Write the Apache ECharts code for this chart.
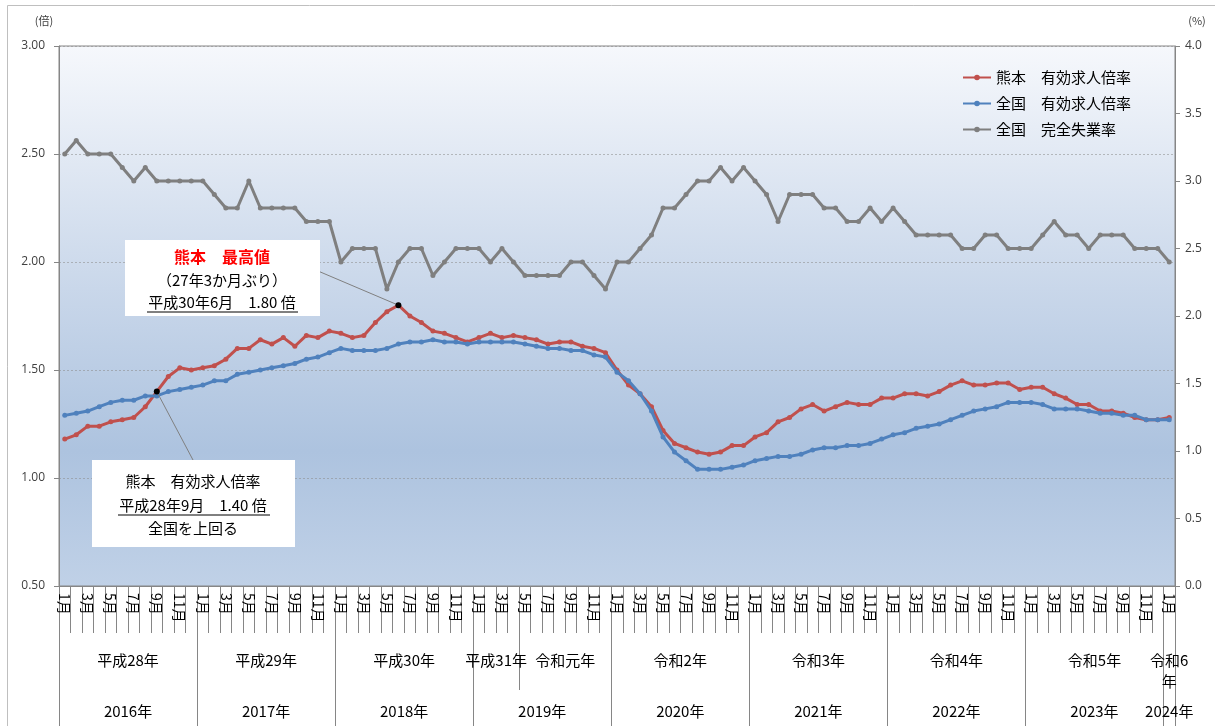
<!DOCTYPE html>
<html>
<head>
<meta charset="utf-8">
<script src="https://cdn.jsdelivr.net/npm/echarts@6/dist/echarts.min.js"></script>
<style>
  html, body { margin: 0; padding: 0; background: #fff; }
  #chart { width: 1215px; height: 726px; }
</style>
</head>
<body>
<div id="chart"></div>
<script>
const FONT = '"Noto Sans CJK JP", "Noto Sans", sans-serif';

// months Jan 2016 .. Jan 2024
const years = [2016, 2017, 2018, 2019, 2020, 2021, 2022, 2023, 2024];
const months = [];
years.forEach(y => {
  const n = y === 2024 ? 1 : 12;
  for (let m = 1; m <= n; m++) months.push(m + '月');
});

// 熊本 有効求人倍率
const kumamoto = [
  1.18, 1.20, 1.24, 1.24, 1.26, 1.27, 1.28, 1.33, 1.40, 1.47, 1.51, 1.50,
  1.51, 1.52, 1.55, 1.60, 1.60, 1.64, 1.62, 1.65, 1.61, 1.66, 1.65, 1.68,
  1.67, 1.65, 1.66, 1.72, 1.77, 1.80, 1.75, 1.72, 1.68, 1.67, 1.65, 1.63,
  1.65, 1.67, 1.65, 1.66, 1.65, 1.64, 1.62, 1.63, 1.63, 1.61, 1.60, 1.58,
  1.50, 1.43, 1.39, 1.33, 1.22, 1.16, 1.14, 1.12, 1.11, 1.12, 1.15, 1.15,
  1.19, 1.21, 1.26, 1.28, 1.32, 1.34, 1.31, 1.33, 1.35, 1.34, 1.34, 1.37,
  1.37, 1.39, 1.39, 1.38, 1.40, 1.43, 1.45, 1.43, 1.43, 1.44, 1.44, 1.41,
  1.42, 1.42, 1.39, 1.37, 1.34, 1.34, 1.31, 1.31, 1.30, 1.28, 1.27, 1.27,
  1.28
];

// 全国 有効求人倍率
const national = [
  1.29, 1.30, 1.31, 1.33, 1.35, 1.36, 1.36, 1.38, 1.38, 1.40, 1.41, 1.42,
  1.43, 1.45, 1.45, 1.48, 1.49, 1.50, 1.51, 1.52, 1.53, 1.55, 1.56, 1.58,
  1.60, 1.59, 1.59, 1.59, 1.60, 1.62, 1.63, 1.63, 1.64, 1.63, 1.63, 1.62,
  1.63, 1.63, 1.63, 1.63, 1.62, 1.61, 1.60, 1.60, 1.59, 1.59, 1.57, 1.56,
  1.49, 1.45, 1.39, 1.31, 1.19, 1.12, 1.08, 1.04, 1.04, 1.04, 1.05, 1.06,
  1.08, 1.09, 1.10, 1.10, 1.11, 1.13, 1.14, 1.14, 1.15, 1.15, 1.16, 1.18,
  1.20, 1.21, 1.23, 1.24, 1.25, 1.27, 1.29, 1.31, 1.32, 1.33, 1.35, 1.35,
  1.35, 1.34, 1.32, 1.32, 1.32, 1.31, 1.30, 1.30, 1.29, 1.29, 1.27, 1.27,
  1.27
];

// 全国 完全失業率 (%)
const unemployment = [
  3.2, 3.3, 3.2, 3.2, 3.2, 3.1, 3.0, 3.1, 3.0, 3.0, 3.0, 3.0,
  3.0, 2.9, 2.8, 2.8, 3.0, 2.8, 2.8, 2.8, 2.8, 2.7, 2.7, 2.7,
  2.4, 2.5, 2.5, 2.5, 2.2, 2.4, 2.5, 2.5, 2.3, 2.4, 2.5, 2.5,
  2.5, 2.4, 2.5, 2.4, 2.3, 2.3, 2.3, 2.3, 2.4, 2.4, 2.3, 2.2,
  2.4, 2.4, 2.5, 2.6, 2.8, 2.8, 2.9, 3.0, 3.0, 3.1, 3.0, 3.1,
  3.0, 2.9, 2.7, 2.9, 2.9, 2.9, 2.8, 2.8, 2.7, 2.7, 2.8, 2.7,
  2.8, 2.7, 2.6, 2.6, 2.6, 2.6, 2.5, 2.5, 2.6, 2.6, 2.5, 2.5,
  2.5, 2.6, 2.7, 2.6, 2.6, 2.5, 2.6, 2.6, 2.6, 2.5, 2.5, 2.5,
  2.4
];

// era / calendar year group labels (index where label sits, breaks where lines go)
const eraNames = ['平成28年', '平成29年', '平成30年', '平成31年', '令和元年', '令和2年', '令和3年', '令和4年', '令和5年', '令和6\n年'];
const eraAt = [6, 18, 30, 38, 44, 54, 66, 78, 90, 96];
const eraBreaks = [0, 12, 24, 36, 40, 48, 60, 72, 84, 96];
const yearNames = ['2016年', '2017年', '2018年', '2019年', '2020年', '2021年', '2022年', '2023年', '2024年'];
const yearAt = [6, 18, 30, 42, 54, 66, 78, 90, 96];
const yearBreaks = [0, 12, 24, 36, 48, 60, 72, 84, 96];

const seriesNames = ['熊本\u3000有効求人倍率', '全国\u3000有効求人倍率', '全国\u3000完全失業率'];
const colors = ['#c0504d', '#4f81bd', '#7f7f7f'];

const chart = echarts.init(document.getElementById('chart'));

const axisGray = '#868686';

function groupLabel(names, at) {
  return function (value, index) {
    const k = at.indexOf(index);
    if (k < 0) return '';
    const name = names[k];
    if (index === 96) return name.split('\n').map(s => '{b|' + s + '}').join('\n');
    return '{a|' + name + '}';
  };
}

const option = {
  animation: false,
  color: colors,
  textStyle: { fontFamily: FONT },
  grid: {
    left: 59, right: 40, top: 46, bottom: 140,
    show: true,
    borderColor: axisGray,
    borderWidth: 1,
    backgroundColor: new echarts.graphic.LinearGradient(0, 0, 0, 1, [
      { offset: 0, color: '#f6f8fc' },
      { offset: 0.45, color: '#c9d7ea' },
      { offset: 0.75, color: '#adc3df' },
      { offset: 1, color: '#c0d1e7' }
    ])
  },
  legend: {
    orient: 'vertical',
    left: 962,
    top: 70,
    padding: 0,
    itemWidth: 28,
    itemHeight: 7,
    itemGap: 11,
    textStyle: { fontFamily: FONT, fontSize: 15, color: '#000' },
    data: seriesNames
  },
  xAxis: [
    {
      type: 'category',
      data: months,
      boundaryGap: true,
      axisLine: { lineStyle: { color: axisGray } },
      axisTick: { show: true, interval: 0, length: 47, lineStyle: { color: axisGray } },
      axisLabel: {
        interval: (i) => i % 2 === 0,
        rotate: -90,
        margin: 7,
        fontSize: 14,
        color: '#000',
        fontFamily: FONT
      }
    },
    {
      type: 'category',
      data: months,
      position: 'bottom',
      offset: 47,
      boundaryGap: true,
      axisLine: { show: false },
      axisTick: { show: true, interval: (i) => eraBreaks.includes(i), length: 57, lineStyle: { color: axisGray } },
      axisLabel: {
        interval: (i) => eraAt.includes(i),
        formatter: groupLabel(eraNames, eraAt),
        margin: 17,
        fontSize: 15,
        lineHeight: 21,
        color: '#000',
        fontFamily: FONT,
        rich: {
          a: { fontSize: 15, fontFamily: FONT, color: '#000', padding: [0, 11.5, 0, 0] },
          b: { fontSize: 15, fontFamily: FONT, color: '#000', lineHeight: 21 }
        }
      }
    },
    {
      type: 'category',
      data: months,
      position: 'bottom',
      offset: 104,
      boundaryGap: true,
      axisLine: { show: false },
      axisTick: { show: true, interval: (i) => yearBreaks.includes(i), length: 40, lineStyle: { color: axisGray } },
      axisLabel: {
        interval: (i) => yearAt.includes(i),
        formatter: function (value, index) {
          const k = yearAt.indexOf(index);
          if (k < 0) return '';
          return index === 96 ? '{b|' + yearNames[k] + '}' : '{a|' + yearNames[k] + '}';
        },
        margin: 14,
        fontSize: 15,
        color: '#000',
        fontFamily: FONT,
        rich: {
          a: { fontSize: 15, fontFamily: FONT, color: '#000', padding: [0, 11.5, 0, 0] },
          b: { fontSize: 15, fontFamily: FONT, color: '#000' }
        }
      }
    }
  ],
  yAxis: [
    {
      type: 'value',
      min: 0.5, max: 3.0, interval: 0.5,
      name: '(倍)',
      nameLocation: 'end',
      nameGap: 20,
      nameTextStyle: { fontSize: 11, color: '#404040', fontFamily: FONT, padding: [0, 30, 0, 0] },
      axisLine: { show: true, lineStyle: { color: axisGray } },
      axisTick: { show: true, length: 5, lineStyle: { color: axisGray } },
      axisLabel: { formatter: v => v.toFixed(2), fontSize: 12, color: '#404040', margin: 14, fontFamily: '"Open Sans", sans-serif' },
      splitLine: { show: true, lineStyle: { color: 'rgba(140,140,140,0.55)', type: [2, 2], width: 1 } }
    },
    {
      type: 'value',
      min: 0, max: 4.0, interval: 0.5,
      name: '(%)',
      nameLocation: 'end',
      nameGap: 20,
      nameTextStyle: { fontSize: 11, color: '#404040', fontFamily: FONT, padding: [0, 0, 0, 44] },
      axisLine: { show: true, lineStyle: { color: axisGray } },
      axisTick: { show: true, length: 5, lineStyle: { color: axisGray } },
      axisLabel: { formatter: v => v.toFixed(1), fontSize: 12, color: '#404040', margin: 10, fontFamily: '"Open Sans", sans-serif' },
      splitLine: { show: false }
    }
  ],
  series: [
    {
      name: seriesNames[0],
      type: 'line',
      data: kumamoto,
      symbol: 'circle',
      symbolSize: 5,
      lineStyle: { width: 3 },
      z: 3,
      markLine: {
        silent: true,
        symbol: ['none', 'none'],
        label: { show: false },
        lineStyle: { color: '#808080', width: 1, type: 'solid' },
        data: [
          [{ x: 318, y: 271 }, { coord: [29, 1.80] }],
          [{ x: 193, y: 460 }, { coord: [8, 1.40] }]
        ]
      },
      markPoint: {
        silent: true,
        symbol: 'circle',
        symbolSize: 6,
        label: { show: false },
        itemStyle: { color: '#000' },
        data: [{ coord: [29, 1.80] }, { coord: [8, 1.40] }]
      }
    },
    {
      name: seriesNames[1],
      type: 'line',
      data: national,
      symbol: 'circle',
      symbolSize: 5,
      lineStyle: { width: 3 },
      z: 4
    },
    {
      name: seriesNames[2],
      type: 'line',
      yAxisIndex: 1,
      data: unemployment,
      symbol: 'circle',
      symbolSize: 5,
      lineStyle: { width: 3 },
      z: 2
    }
  ],
  graphic: [
    // outer frame
    { type: 'rect', shape: { x: 7.5, y: 5.5, width: 1230, height: 740 }, style: { fill: 'none', stroke: '#bfbfbf', lineWidth: 1 }, silent: true, z: 0 },
    // peak note
    { type: 'rect', shape: { x: 125, y: 240, width: 195, height: 76 }, style: { fill: '#fff' }, z: 10 },
    { type: 'text', x: 222, y: 257, z: 11, style: { text: '熊本\u3000最高値', font: 'bold 16px ' + FONT, fill: '#ff0000', align: 'center', verticalAlign: 'middle' } },
    { type: 'text', x: 222, y: 280, z: 11, style: { text: '（27年3か月ぶり）', font: '15px ' + FONT, fill: '#000', align: 'center', verticalAlign: 'middle' } },
    { type: 'text', x: 222, y: 302, z: 11, style: { text: '平成30年6月\u30001.80 倍', font: '15px ' + FONT, fill: '#000', align: 'center', verticalAlign: 'middle' } },
    { type: 'line', z: 11, shape: { x1: 147, y1: 312, x2: 298, y2: 312 }, style: { stroke: '#000', lineWidth: 1 } },
    // crossover note
    { type: 'rect', shape: { x: 92, y: 460, width: 203, height: 87 }, style: { fill: '#fff' }, z: 10 },
    { type: 'text', x: 193, y: 481, z: 11, style: { text: '熊本\u3000有効求人倍率', font: '15px ' + FONT, fill: '#000', align: 'center', verticalAlign: 'middle' } },
    { type: 'text', x: 193, y: 505, z: 11, style: { text: '平成28年9月\u30001.40 倍', font: '15px ' + FONT, fill: '#000', align: 'center', verticalAlign: 'middle' } },
    { type: 'line', z: 11, shape: { x1: 118, y1: 515, x2: 270, y2: 515 }, style: { stroke: '#000', lineWidth: 1 } },
    { type: 'text', x: 193, y: 528, z: 11, style: { text: '全国を上回る', font: '15px ' + FONT, fill: '#000', align: 'center', verticalAlign: 'middle' } }
  ]
};

chart.setOption(option);
</script>
</body>
</html>
